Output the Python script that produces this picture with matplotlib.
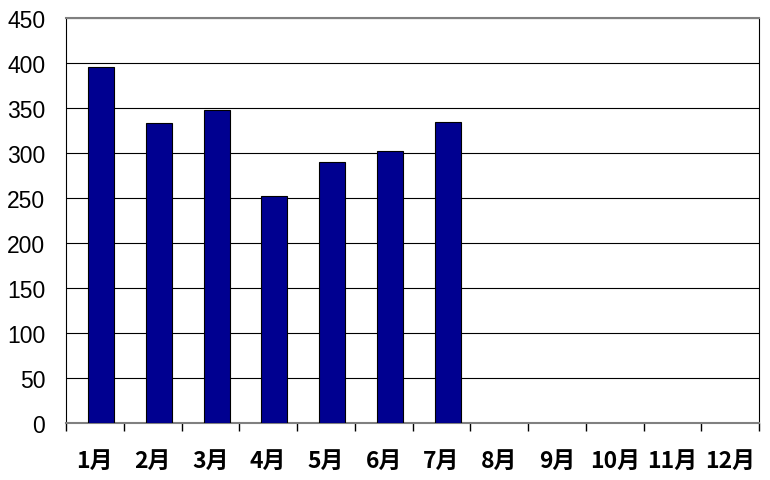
import matplotlib
matplotlib.use("Agg")
import matplotlib.pyplot as plt

months = ["1月", "2月", "3月", "4月", "5月", "6月", "7月", "8月", "9月", "10月", "11月", "12月"]
values = [396, 333, 348, 252, 290, 302, 334, 0, 0, 0, 0, 0]
yticks = [0, 50, 100, 150, 200, 250, 300, 350, 400, 450]

plt.rcParams['font.family'] = ['Liberation Sans', 'Noto Sans CJK JP', 'DejaVu Sans']

fig = plt.figure(figsize=(7.7, 4.81), dpi=100)
ax = fig.add_axes([66/770, 1 - 424/481, (759-66)/770, (424-19)/481])

x = list(range(len(months)))
ax.bar([i + 0.11 for i in x[:7]], values[:7], width=0.45, color='#000090', edgecolor='black', linewidth=0.8, zorder=3)

ax.set_xlim(-0.5, 11.5)
ax.set_ylim(0, 450)
ax.set_yticks(yticks)
ax.set_yticklabels([str(v) for v in yticks], fontsize=16.5)
ax.yaxis.grid(True, color='black', linewidth=0.8, zorder=0)
ax.tick_params(axis='y', length=0, pad=15)

ax.set_xticks([i - 0.5 for i in range(13)], minor=False)
ax.set_xticklabels([])
ax.set_xticks(x, minor=True)
ax.set_xticklabels(months, minor=True, fontsize=16.5, family=['Noto Sans CJK JP', 'DejaVu Sans'], fontweight='bold')
ax.tick_params(axis='x', which='major', length=6, direction='out', color='black', width=1)
ax.tick_params(axis='x', which='minor', length=0, pad=19)

ax.spines['top'].set_color('#808080')
ax.spines['top'].set_linewidth(1.5)
ax.spines['bottom'].set_color('#808080')
ax.spines['bottom'].set_linewidth(1.5)
ax.spines['left'].set_color('black')
ax.spines['right'].set_color('black')

fig.savefig("out.png", dpi=100)
